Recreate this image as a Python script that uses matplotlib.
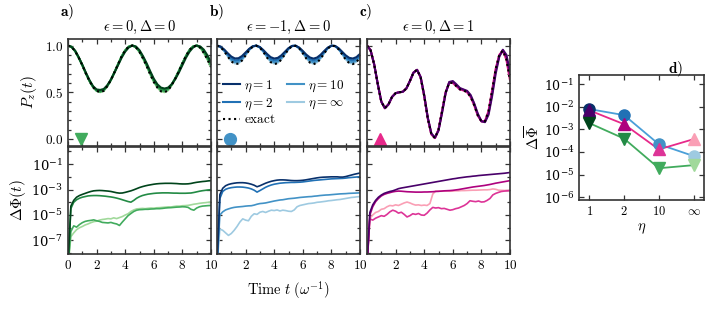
import numpy as np
import matplotlib as mpl
mpl.use('agg')
import matplotlib.pyplot as plt
from matplotlib.ticker import FixedLocator, FuncFormatter, MultipleLocator, NullFormatter

plt.rcParams['mathtext.fontset'] = 'cm'
plt.rcParams['font.family'] = 'serif'
plt.rcParams['font.size'] = 9

# time grids
t_pz = np.linspace(0, 10, 41)
t_err = np.linspace(0, 10, 51)

etas = ['1', '2', '10', r'\infty']

# ---- panel a: eps = 0, Delta = 0 ----
pz_a_exact = [1.00, 0.985, 0.94, 0.87, 0.79, 0.70, 0.62, 0.555, 0.515, 0.50, 0.515, 0.565, 0.63, 0.715,
              0.80, 0.885, 0.95, 0.99, 1.00, 0.98, 0.93, 0.86, 0.78, 0.69, 0.61, 0.55, 0.51, 0.50,
              0.52, 0.575, 0.645, 0.725, 0.81, 0.89, 0.955, 0.99, 1.00, 0.975, 0.92, 0.85, 0.77]
pz_a = [
    [1.00, 0.985, 0.945, 0.875, 0.795, 0.71, 0.63, 0.565, 0.53, 0.525, 0.535, 0.575, 0.635, 0.71,
     0.79, 0.87, 0.935, 0.98, 1.00, 0.99, 0.95, 0.885, 0.81, 0.725, 0.645, 0.585, 0.55, 0.54,
     0.55, 0.585, 0.64, 0.71, 0.79, 0.87, 0.935, 0.98, 1.00, 0.99, 0.955, 0.895, 0.82],
    [1.00, 0.985, 0.94, 0.87, 0.79, 0.705, 0.625, 0.56, 0.52, 0.51, 0.525, 0.57, 0.635, 0.715,
     0.80, 0.88, 0.945, 0.985, 1.00, 0.985, 0.94, 0.875, 0.795, 0.71, 0.63, 0.57, 0.535, 0.525,
     0.54, 0.585, 0.65, 0.725, 0.81, 0.885, 0.95, 0.99, 1.00, 0.985, 0.94, 0.875, 0.80],
    [1.00, 0.985, 0.94, 0.87, 0.79, 0.70, 0.62, 0.555, 0.515, 0.505, 0.52, 0.565, 0.63, 0.715,
     0.80, 0.885, 0.95, 0.99, 1.00, 0.98, 0.935, 0.865, 0.785, 0.70, 0.62, 0.56, 0.52, 0.51,
     0.53, 0.58, 0.65, 0.73, 0.81, 0.89, 0.955, 0.99, 1.00, 0.98, 0.93, 0.86, 0.785],
    [1.00, 0.985, 0.94, 0.87, 0.79, 0.70, 0.62, 0.555, 0.515, 0.50, 0.515, 0.565, 0.63, 0.715,
     0.80, 0.885, 0.95, 0.99, 1.00, 0.98, 0.93, 0.86, 0.78, 0.69, 0.61, 0.55, 0.51, 0.50,
     0.52, 0.575, 0.645, 0.725, 0.81, 0.89, 0.955, 0.99, 1.00, 0.975, 0.92, 0.85, 0.77],
]
# log10 of Delta Phi(t)
lerr_a = [
    [-9, -4.3, -3.85, -3.6, -3.47, -3.38, -3.3, -3.22, -3.15, -3.1, -3.08, -3.07, -3.08, -3.1, -3.12,
     -3.15, -3.2, -3.25, -3.28, -3.27, -3.22, -3.16, -3.1, -3.02, -2.93, -2.84, -2.77, -2.71, -2.66,
     -2.62, -2.58, -2.55, -2.53, -2.52, -2.51, -2.51, -2.51, -2.52, -2.53, -2.55, -2.56, -2.56, -2.55,
     -2.52, -2.47, -2.43, -2.4, -2.37, -2.35, -2.32, -2.3],
    [-9, -4.5, -4.0, -3.8, -3.68, -3.6, -3.55, -3.5, -3.48, -3.47, -3.47, -3.48, -3.5, -3.52, -3.55,
     -3.58, -3.62, -3.67, -3.73, -3.8, -3.87, -3.94, -3.99, -3.85, -3.68, -3.56, -3.47, -3.41, -3.36,
     -3.33, -3.3, -3.28, -3.27, -3.26, -3.26, -3.26, -3.27, -3.28, -3.28, -3.29, -3.29, -3.29, -3.28,
     -3.27, -3.23, -3.18, -3.13, -3.09, -3.06, -3.03, -3.01],
    [-9, -6.3, -5.85, -5.95, -5.75, -5.6, -5.5, -5.45, -5.42, -5.38, -5.45, -5.5, -5.58, -5.6, -5.62,
     -5.58, -5.65, -5.7, -5.82, -5.55, -5.3, -5.05, -4.88, -4.72, -4.62, -4.58, -4.57, -4.55, -4.55,
     -4.53, -4.52, -4.5, -4.5, -4.48, -4.45, -4.43, -4.42, -4.4, -4.38, -4.37, -4.35, -4.36, -4.4,
     -4.55, -4.62, -4.45, -4.35, -4.3, -4.28, -4.26, -4.25],
    [-9, -6.7, -6.4, -6.15, -6.0, -5.9, -5.78, -5.7, -5.6, -5.52, -5.48, -5.4, -5.35, -5.32, -5.28,
     -5.3, -5.22, -5.28, -5.2, -5.12, -5.0, -4.9, -4.72, -4.6, -4.52, -4.5, -4.48, -4.5, -4.47,
     -4.45, -4.46, -4.43, -4.42, -4.4, -4.38, -4.36, -4.37, -4.33, -4.3, -4.3, -4.27, -4.26, -4.24,
     -4.2, -4.15, -4.12, -4.08, -4.05, -4.03, -4.0, -3.98],
]

# ---- panel b: eps = -1, Delta = 0 ----
pz_b_exact = [1.00, 0.983, 0.94, 0.883, 0.831, 0.803, 0.806, 0.84, 0.894, 0.95, 0.989, 0.999, 0.977,
              0.929, 0.871, 0.823, 0.801, 0.811, 0.85, 0.906, 0.96, 0.994, 0.997, 0.969, 0.917, 0.86,
              0.817, 0.80, 0.817, 0.86, 0.917, 0.969, 0.997, 0.994, 0.96, 0.906, 0.85, 0.811, 0.801,
              0.823, 0.871]
pz_b = [
    [1.00, 0.988, 0.958, 0.918, 0.882, 0.862, 0.864, 0.888, 0.926, 0.965, 0.992, 0.999, 0.984, 0.95,
     0.91, 0.876, 0.861, 0.868, 0.895, 0.934, 0.972, 0.996, 0.998, 0.978, 0.942, 0.902, 0.872, 0.86,
     0.872, 0.902, 0.942, 0.978, 0.998, 0.996, 0.972, 0.934, 0.895, 0.868, 0.861, 0.876, 0.91],
    [1.00, 0.986, 0.952, 0.906, 0.865, 0.842, 0.845, 0.872, 0.915, 0.96, 0.991, 0.999, 0.982, 0.943,
     0.897, 0.858, 0.841, 0.849, 0.88, 0.925, 0.968, 0.995, 0.998, 0.975, 0.934, 0.888, 0.854, 0.84,
     0.854, 0.888, 0.934, 0.975, 0.998, 0.995, 0.968, 0.925, 0.88, 0.849, 0.841, 0.858, 0.897],
    [1.00, 0.985, 0.946, 0.895, 0.848, 0.823, 0.825, 0.856, 0.905, 0.955, 0.99, 0.999, 0.979, 0.936,
     0.884, 0.841, 0.821, 0.83, 0.865, 0.915, 0.964, 0.995, 0.997, 0.972, 0.925, 0.874, 0.835, 0.82,
     0.835, 0.874, 0.925, 0.972, 0.997, 0.995, 0.964, 0.915, 0.865, 0.83, 0.821, 0.841, 0.884],
    [1.00, 0.984, 0.942, 0.886, 0.835, 0.808, 0.81, 0.843, 0.897, 0.952, 0.989, 0.999, 0.978, 0.93,
     0.874, 0.827, 0.806, 0.815, 0.853, 0.908, 0.961, 0.994, 0.997, 0.97, 0.919, 0.863, 0.821, 0.805,
     0.821, 0.863, 0.919, 0.97, 0.997, 0.994, 0.961, 0.908, 0.853, 0.815, 0.806, 0.827, 0.874],
]
lerr_b = [
    [-9, -3.4, -2.9, -2.7, -2.6, -2.54, -2.5, -2.47, -2.46, -2.46, -2.48, -2.52, -2.58, -2.66, -2.78,
     -2.7, -2.6, -2.5, -2.42, -2.35, -2.3, -2.26, -2.24, -2.24, -2.25, -2.27, -2.29, -2.3, -2.3,
     -2.29, -2.27, -2.24, -2.2, -2.16, -2.12, -2.08, -2.05, -2.03, -2.02, -2.01, -2.0, -2.0, -2.0,
     -2.02, -2.02, -1.98, -1.92, -1.86, -1.8, -1.75, -1.7],
    [-9, -3.7, -3.15, -2.98, -2.9, -2.85, -2.82, -2.8, -2.8, -2.81, -2.84, -2.88, -2.95, -3.05, -3.2,
     -3.08, -2.95, -2.82, -2.72, -2.64, -2.58, -2.54, -2.5, -2.48, -2.46, -2.45, -2.44, -2.44, -2.43,
     -2.42, -2.4, -2.37, -2.34, -2.31, -2.28, -2.26, -2.24, -2.22, -2.2, -2.18, -2.16, -2.15, -2.14,
     -2.13, -2.12, -2.1, -2.07, -2.05, -2.03, -2.01, -1.99],
    [-9, -5.0, -4.75, -4.6, -4.52, -4.45, -4.4, -4.37, -4.35, -4.33, -4.3, -4.28, -4.27, -4.22, -4.15,
     -4.1, -4.08, -4.05, -4.0, -3.95, -3.9, -3.86, -3.82, -3.8, -3.76, -3.72, -3.7, -3.68, -3.65,
     -3.62, -3.6, -3.58, -3.56, -3.55, -3.52, -3.5, -3.47, -3.45, -3.43, -3.42, -3.4, -3.38, -3.36,
     -3.34, -3.33, -3.32, -3.3, -3.29, -3.28, -3.27, -3.26],
    [-9, -6.1, -6.2, -6.4, -6.6, -6.45, -6.2, -5.9, -5.55, -5.3, -5.4, -5.45, -5.1, -4.9, -4.95,
     -4.78, -4.72, -4.8, -4.7, -4.62, -4.65, -4.6, -4.68, -4.62, -4.65, -4.7, -4.72, -4.6, -4.35,
     -4.25, -4.2, -4.15, -4.1, -4.08, -4.05, -4.0, -3.98, -3.95, -3.92, -3.88, -3.86, -3.83, -3.8,
     -3.78, -3.74, -3.7, -3.66, -3.62, -3.6, -3.57, -3.55],
]

# ---- panel c: eps = 0, Delta = 1 ----
pz_c_exact = [1.00, 0.95, 0.80, 0.59, 0.40, 0.33, 0.37, 0.45, 0.49, 0.50, 0.505, 0.54, 0.62, 0.71,
              0.74, 0.66, 0.46, 0.22, 0.05, 0.01, 0.10, 0.30, 0.50, 0.60, 0.60, 0.565, 0.53, 0.52,
              0.50, 0.45, 0.36, 0.25, 0.19, 0.19, 0.30, 0.52, 0.75, 0.90, 0.945, 0.85, 0.63]
pz_c = [
    [1.00, 0.95, 0.80, 0.59, 0.40, 0.33, 0.37, 0.45, 0.49, 0.50, 0.505, 0.54, 0.62, 0.71,
     0.74, 0.665, 0.47, 0.23, 0.06, 0.015, 0.09, 0.28, 0.49, 0.61, 0.62, 0.585, 0.545, 0.53,
     0.515, 0.47, 0.38, 0.27, 0.19, 0.18, 0.26, 0.46, 0.70, 0.88, 0.955, 0.90, 0.72],
    [1.00, 0.95, 0.80, 0.59, 0.40, 0.33, 0.37, 0.45, 0.49, 0.50, 0.505, 0.54, 0.62, 0.71,
     0.74, 0.66, 0.465, 0.225, 0.055, 0.012, 0.095, 0.29, 0.495, 0.605, 0.61, 0.575, 0.54, 0.525,
     0.51, 0.46, 0.37, 0.26, 0.19, 0.185, 0.28, 0.49, 0.73, 0.89, 0.95, 0.875, 0.67],
    pz_c_exact,
    pz_c_exact,
]
lerr_c = [
    [-9, -4.8, -4.2, -3.85, -3.6, -3.43, -3.3, -3.22, -3.15, -3.1, -3.02, -2.93, -2.88, -2.84, -2.8,
     -2.76, -2.72, -2.68, -2.64, -2.6, -2.56, -2.52, -2.48, -2.44, -2.4, -2.36, -2.32, -2.28, -2.24,
     -2.2, -2.16, -2.13, -2.09, -2.06, -2.03, -2.0, -1.98, -1.95, -1.93, -1.9, -1.88, -1.86, -1.84,
     -1.82, -1.8, -1.78, -1.76, -1.74, -1.72, -1.69, -1.66],
    [-9, -5.0, -4.35, -3.95, -3.7, -3.5, -3.38, -3.3, -3.24, -3.18, -3.14, -3.12, -3.13, -3.15, -3.17,
     -3.18, -3.19, -3.2, -3.2, -3.2, -3.19, -3.19, -3.18, -3.17, -3.15, -3.14, -3.12, -3.1, -3.09,
     -3.08, -3.06, -3.03, -3.0, -2.96, -2.92, -2.88, -2.84, -2.8, -2.77, -2.74, -2.71, -2.68, -2.64,
     -2.6, -2.55, -2.5, -2.46, -2.42, -2.38, -2.34, -2.3],
    [-9, -5.3, -5.4, -5.25, -5.15, -5.05, -5.1, -4.95, -4.75, -4.62, -4.7, -4.85, -4.78, -4.95, -5.15,
     -5.05, -4.9, -4.95, -4.88, -5.0, -5.02, -4.85, -4.6, -4.4, -4.45, -4.42, -4.5, -4.48, -4.55,
     -4.62, -4.58, -4.5, -4.45, -4.35, -4.25, -4.1, -3.88, -3.92, -3.95, -3.9, -3.98, -3.96, -3.85,
     -3.7, -3.42, -3.3, -3.22, -3.15, -3.12, -3.1, -3.08],
    [-9, -5.25, -5.0, -4.8, -4.72, -4.55, -4.5, -4.35, -4.25, -4.28, -4.2, -4.25, -4.15, -4.05, -3.98,
     -4.05, -4.15, -4.22, -4.2, -4.25, -4.22, -4.25, -4.1, -3.35, -3.12, -3.12, -3.13, -3.12, -3.12,
     -3.13, -3.12, -3.1, -3.1, -3.08, -3.08, -3.07, -3.06, -3.05, -3.05, -3.04, -3.03, -3.02, -3.02,
     -3.0, -2.95, -2.98, -3.05, -3.06, -3.07, -3.08, -3.08],
]

# ---- panel d: time-averaged error vs eta ----
dphi_b = [8.0e-3, 4.3e-3, 2.2e-4, 6.6e-5]
dphi_c = [7.0e-3, 1.7e-3, 1.3e-4, 3.7e-4]
dphi_a = [1.9e-3, 3.9e-4, 1.9e-5, 2.6e-5]

greens = ['#00441b', '#238b45', '#41ab5d', '#a1d99b']
blues = ['#08306b', '#2171b5', '#4292c6', '#9ecae1']
pinks = ['#49006a', '#ae017e', '#dd3497', '#fa9fb5']

W, H = 718, 309
fig = plt.figure(figsize=(W / 100, H / 100), dpi=100)


def rect(x0, y0, x1, y1):
    return [x0 / W, 1 - y1 / H, (x1 - x0) / W, (y1 - y0) / H]


def style(ax, lsize=9.5):
    for s in ax.spines.values():
        s.set_linewidth(1.2)
        s.set_color('#333333')
    ax.tick_params(which='both', direction='in', top=True, right=True, colors='#333333',
                   labelcolor='black', labelsize=lsize, width=0.9)
    ax.tick_params(which='major', length=3.5)
    ax.tick_params(which='minor', length=2.5)


mfmt = FuncFormatter(lambda v, p: r'$%g$' % v)
mfmt_no0 = FuncFormatter(lambda v, p: '' if v == 0 else r'$%g$' % v)
ffmt = FuncFormatter(lambda v, p: r'$%.1f$' % v)

xs = [(68, 211), (217, 360), (367, 510)]
titles = [r'$\epsilon=0,\Delta=0$', r'$\epsilon=-1,\Delta=0$', r'$\epsilon=0,\Delta=1$']
pz_all = [pz_a, pz_b, pz_c]
ex_all = [pz_a_exact, pz_b_exact, pz_c_exact]
err_all = [lerr_a, lerr_b, lerr_c]
cols_all = [greens, blues, pinks]
marks = [('v', '#41ab5d'), ('o', '#4292c6'), ('^', '#e7298a')]
letters = ['a', 'b', 'c']
leg = None

for i in range(3):
    x0, x1 = xs[i]
    cols = cols_all[i]
    top = fig.add_axes(rect(x0, 39, x1, 146))
    bot = fig.add_axes(rect(x0, 147, x1, 254))

    for k in range(3, -1, -1):
        top.plot(t_pz, pz_all[i][k], color=cols[k], lw=1.5, label=r'$\eta=%s$' % etas[k])
        bot.plot(t_err, 10.0 ** np.array(err_all[i][k]), color=cols[k], lw=1.2)
    top.plot(t_pz, ex_all[i], color='black', ls=':', lw=1.5, label=r'$\mathrm{exact}$')
    top.plot([0.9], [0.0], marker=marks[i][0], color=marks[i][1], ms=8.5, ls='none')

    top.set_xlim(0, 10)
    top.set_ylim(-0.075, 1.07)
    bot.set_xlim(0, 10)
    bot.set_yscale('log')
    bot.set_ylim(8.7e-9, 2.2)

    for ax in (top, bot):
        ax.xaxis.set_major_locator(MultipleLocator(2))
        ax.xaxis.set_minor_locator(MultipleLocator(1))
        style(ax)
    top.yaxis.set_major_locator(MultipleLocator(0.5))
    top.yaxis.set_minor_locator(MultipleLocator(0.1))
    top.yaxis.set_major_formatter(ffmt)
    top.xaxis.set_major_formatter(NullFormatter())
    bot.xaxis.set_major_formatter(mfmt if i == 0 else mfmt_no0)
    bot.yaxis.set_major_locator(FixedLocator([1e-7, 1e-5, 1e-3, 1e-1]))
    bot.yaxis.set_minor_locator(FixedLocator([1e-8, 1e-6, 1e-4, 1e-2, 1.0]))
    bot.yaxis.set_minor_formatter(NullFormatter())
    if i > 0:
        top.yaxis.set_major_formatter(NullFormatter())
        bot.yaxis.set_major_formatter(NullFormatter())
    else:
        top.set_ylabel(r'$P_z(t)$', fontsize=11, labelpad=4)
        bot.set_ylabel(r'$\Delta\Phi(t)$', fontsize=11, labelpad=2)

    top.set_title(titles[i], fontsize=10.5, pad=6)
    fig.text((x0 - 8) / W, 1 - 12 / H, r'$\mathbf{%s})$' % letters[i], fontsize=11,
             ha='left', va='center')

    if i == 1:
        bot.set_xlabel(r'$\mathrm{Time}\ t\ (\omega^{-1})$', fontsize=10.5, labelpad=5)
        h, l = top.get_legend_handles_labels()
        order = [3, 2, 4, 1, 0]
        leg = top.legend([h[j] for j in order], [l[j] for j in order], ncol=2, frameon=False,
                         loc='upper left', bbox_to_anchor=(0.03, 0.64), fontsize=9.5,
                         handlelength=1.35, handletextpad=0.3, columnspacing=0.8,
                         labelspacing=0.15, borderpad=0.1, borderaxespad=0.0)

# keep the legend above the neighbouring panel
leg.set_zorder(10)
leg.remove()
fig.add_artist(leg)

# panel d
axd = fig.add_axes(rect(579, 75, 704, 200))
xd = np.arange(4)
axd.plot(xd, dphi_b, color='#4a9fd8', lw=1.3, zorder=1)
axd.plot(xd, dphi_c, color='#e7298a', lw=1.3, zorder=1)
axd.plot(xd, dphi_a, color='#41ab5d', lw=1.3, zorder=1)
for k in range(4):
    axd.plot(xd[k], dphi_b[k], marker='o', color=blues[k], ms=8, ls='none', zorder=3)
    axd.plot(xd[k], dphi_c[k], marker='^', color=pinks[k], ms=8, ls='none', zorder=3)
    axd.plot(xd[k], dphi_a[k], marker='v', color=greens[k], ms=8, ls='none', zorder=3)
axd.set_yscale('log')
axd.set_ylim(7.4e-7, 0.26)
axd.set_xlim(-0.3, 3.3)
axd.set_xticks(xd)
axd.set_xticklabels([r'$%s$' % e for e in etas])
axd.yaxis.set_major_locator(FixedLocator([1e-6, 1e-5, 1e-4, 1e-3, 1e-2, 1e-1]))
axd.yaxis.set_minor_locator(FixedLocator([]))
style(axd, 9)
axd.set_xlabel(r'$\eta$', fontsize=10.5, labelpad=3)
axd.set_ylabel(r'$\Delta\overline{\Phi}$', fontsize=10.5, labelpad=1)
fig.text(668 / W, 1 - 69 / H, r'$\mathbf{d})$', fontsize=11, ha='left', va='center')

fig.savefig('out.png', dpi=100)
